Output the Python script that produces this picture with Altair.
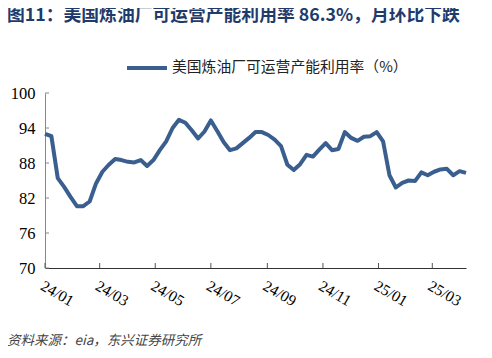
import altair as alt
import pandas as pd

title_text = "图11：美国炼油厂可运营产能利用率 86.3%，月环比下跌"
source_text = "资料来源：eia，东兴证券研究所"
series_name = "美国炼油厂可运营产能利用率（%）"

# weekly refinery utilisation (%), week ending dates starting 2024-01-05
start_date = "2024-01-05"
end_date = "2025-04-11"
util = [93.0, 92.6, 85.4, 83.9, 82.2, 80.6, 80.6, 81.4, 84.5, 86.5,
        87.7, 88.7, 88.5, 88.2, 88.1, 88.5, 87.5, 88.5, 90.2, 91.7,
        94.0, 95.4, 94.9, 93.6, 92.2, 93.4, 95.3, 93.5, 91.6, 90.2,
        90.5, 91.4, 92.3, 93.3, 93.3, 92.8, 92.0, 90.9, 87.7, 86.8,
        87.8, 89.4, 89.1, 90.3, 91.4, 90.2, 90.4, 93.3, 92.3, 91.8,
        92.5, 92.6, 93.3, 91.7, 85.9, 83.8, 84.6, 85.0, 84.9, 86.4,
        85.9, 86.5, 86.9, 87.0, 85.9, 86.6, 86.3]

x_ticks = ["2024-01-05", "2024-03-05", "2024-05-05", "2024-07-05",
           "2024-09-05", "2024-11-05", "2025-01-05", "2025-03-05"]
y_ticks = [70, 76, 82, 88, 94, 100]

dates = pd.date_range(start_date, periods=len(util), freq="7D").strftime("%Y-%m-%d")
df = pd.DataFrame({"date": dates, "util": util, "series": series_name})


def dt(s):
    y, m, d = (int(p) for p in s.split("-"))
    return alt.DateTime(year=y, month=m, date=d, utc=True)


x_scale = alt.Scale(type="utc", domain=[dt(start_date), dt(end_date)])
y_scale = alt.Scale(domain=[70, 100], nice=False, zero=False)

x_axis = alt.Axis(values=[dt(s) for s in x_ticks], format="%y/%m",
                  labelAngle=30, labelAlign="left", labelBaseline="top",
                  ticks=False, tickSize=0, grid=False, domainColor="#333",
                  domainWidth=1.2,
                  labelFont="Liberation Serif", labelFontSize=15.5,
                  labelColor="#000", labelPadding=10, title=None)
y_axis = alt.Axis(values=y_ticks, ticks=False, tickSize=0, grid=False,
                  domainColor="#888", labelFont="Liberation Serif",
                  labelFontSize=16.5, labelColor="#000", labelPadding=10,
                  title=None)

line = alt.Chart(df).mark_line(strokeWidth=4, strokeJoin="round").encode(
    x=alt.X("date:T", scale=x_scale, axis=x_axis),
    y=alt.Y("util:Q", scale=y_scale, axis=y_axis),
    color=alt.Color("series:N", scale=alt.Scale(range=["#3A5F8F"]),
                    legend=alt.Legend(orient="none", legendX=80, legendY=-47,
                                      title=None, symbolType="stroke",
                                      symbolSize=1600, symbolStrokeWidth=4,
                                      labelFont="Noto Sans CJK SC",
                                      labelFontSize=14.8, labelColor="#222",
                                      labelLimit=400, labelOffset=3)),
)

yt = alt.Chart(pd.DataFrame({"v": y_ticks})).mark_rule(color="#888").encode(
    y=alt.Y("v:Q", scale=y_scale, axis=y_axis),
    x=alt.value(0), x2=alt.value(4),
)

xt = alt.Chart(pd.DataFrame({"date": x_ticks})).mark_rule(color="#555").encode(
    x=alt.X("date:T", scale=x_scale, axis=x_axis),
    y=alt.value(175), y2=alt.value(170),
)

title = alt.Chart(pd.DataFrame({"t": [title_text]})).mark_text(
    align="left", baseline="top", font="Noto Sans CJK SC", fontSize=17.8,
    fontWeight="bold", color="#1F3B6C").encode(
    text="t:N", x=alt.value(-38), y=alt.value(-86))

source = alt.Chart(pd.DataFrame({"t": [source_text]})).mark_text(
    align="left", baseline="middle", font="Noto Sans CJK SC", fontSize=13.5,
    fontStyle="italic", color="#444").encode(
    text="t:N", x=alt.value(-38), y=alt.value(248))

chart = alt.layer(line, yt, xt, title, source).properties(
    width=421, height=175,
    autosize=alt.AutoSizeParams(type="none"),
    padding={"left": 37, "top": 85, "right": 18, "bottom": 82},
).configure_view(stroke=None)

chart.save("out.html", embed_options={"renderer": "svg", "actions": False})
